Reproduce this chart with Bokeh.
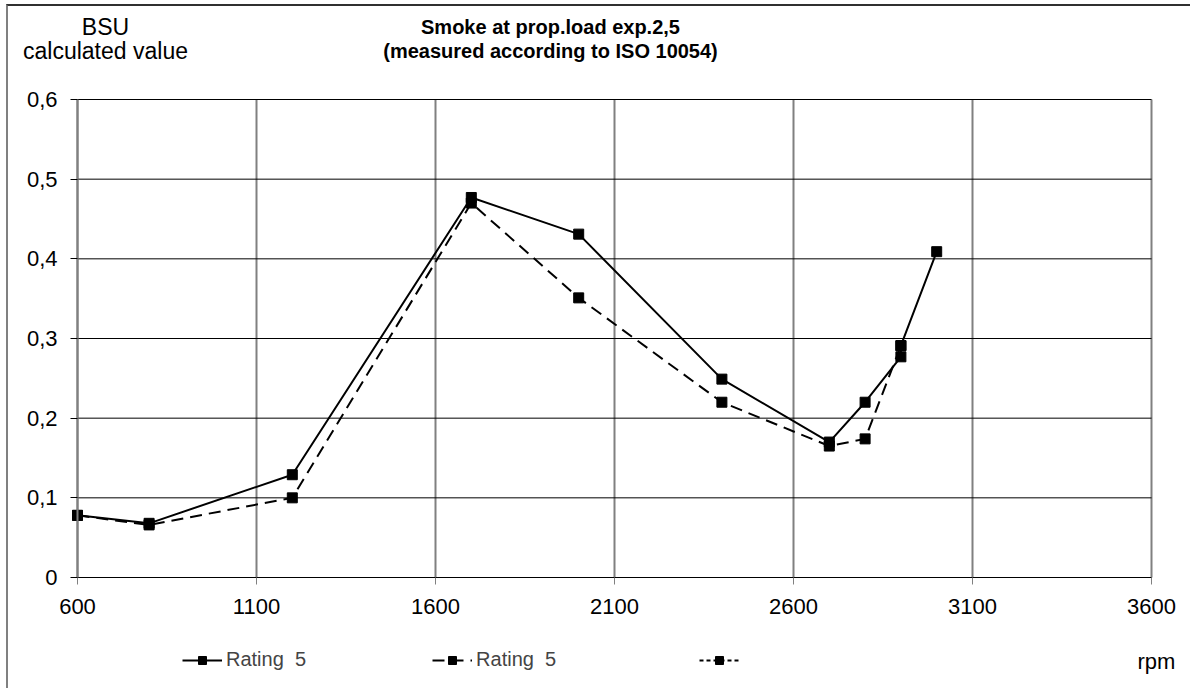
from bokeh.plotting import figure
from bokeh.models import (Range1d, FixedTicker, CustomJSTickFormatter, Label, Legend,
                          LegendItem, ColumnDataSource, LinearAxis)
from bokeh.embed import file_html
from bokeh.resources import INLINE

nan = float("nan")

# ---- data ----
rpm_solid = [600, 800, 1200, 1700, 2000, 2400, 2700, 2800, 2900, 2900, 3000]
bsu_solid = [0.078, 0.068, 0.129, 0.477, 0.431, 0.249, 0.170, 0.220, 0.277, 0.291, 0.409]
rpm_dash = [600, 800, 1200, 1700, 2000, 2400, 2700, 2800, 2900]
bsu_dash = [0.078, 0.066, 0.100, 0.470, 0.351, 0.220, 0.165, 0.174, 0.291]
rpm_dot = [nan]          # third series: legend entry only, no visible values
bsu_dot = [nan]
x_ticks = [600, 1100, 1600, 2100, 2600, 3100, 3600]
y_ticks = [0, 0.1, 0.2, 0.3, 0.4, 0.5, 0.6]
series_labels = ["Rating  5", "Rating  5\u00a0\u00a0\u00a0", " "]

FONT = "Liberation Sans"

# ---- layout (canvas pixels) ----
W, H = 1184, 684
FL, FR, FT, FB = 69, 1143, 93, 571   # where the value area sits on the canvas
x0, x1 = x_ticks[0], x_ticks[-1]
y0, y1 = y_ticks[0], y_ticks[-1]
kx = (x1 - x0) / (FR - FL)
ky = (y1 - y0) / (FB - FT)
xr = Range1d(x0 - FL * kx, x1 + (W - FR) * kx)
yr = Range1d(y0 - (H - FB) * ky, y1 + FT * ky)

p = figure(width=W, height=H, output_backend="svg", toolbar_location=None,
           x_range=xr, y_range=yr, x_axis_location=None, y_axis_location=None,
           min_border=0)
p.styles = {"border-left": "2px solid #808080", "border-top": "2px solid #303030",
            "margin-left": "6px", "margin-top": "4px"}
p.outline_line_color = None
p.background_fill_color = "white"
p.border_fill_color = "white"
p.center = []

# grid lines from the tick lists
p.segment(x0=x_ticks, y0=[y0] * len(x_ticks), x1=x_ticks, y1=[y1] * len(x_ticks),
          line_color="#808080", line_width=2)
p.segment(x0=[x0] * len(y_ticks), y0=y_ticks, x1=[x1] * len(y_ticks), y1=y_ticks,
          line_color="black", line_width=1)

# axes
xa = LinearAxis(fixed_location=y0, bounds=(x0, x1), ticker=FixedTicker(ticks=x_ticks))
ya = LinearAxis(fixed_location=x0, bounds=(y0, y1), ticker=FixedTicker(ticks=y_ticks),
                formatter=CustomJSTickFormatter(
                    code='return tick == 0 ? "0" : tick.toFixed(1).replace(".", ",");'))
for ax in (xa, ya):
    ax.major_label_text_font = FONT
    ax.major_label_text_font_size = "22px"
    ax.major_label_text_color = "black"
    ax.minor_tick_line_color = None
    ax.major_tick_in = 0
    ax.major_tick_out = 7
xa.axis_line_color = "black"
xa.major_tick_line_color = "#808080"
xa.major_label_standoff = 14
ya.axis_line_color = "#808080"
ya.axis_line_width = 2
ya.major_tick_line_color = "black"
ya.major_label_standoff = 13
p.add_layout(xa, "below")
p.add_layout(ya, "left")

# series
s1 = ColumnDataSource(dict(x=rpm_solid, y=bsu_solid))
s2 = ColumnDataSource(dict(x=rpm_dash, y=bsu_dash))
s3 = ColumnDataSource(dict(x=rpm_dot, y=bsu_dot))

l2 = p.line("x", "y", source=s2, line_color="black", line_width=2, line_dash="12 7")
m2 = p.scatter("x", "y", source=s2, marker="square", size=10, color="black")
l1 = p.line("x", "y", source=s1, line_color="black", line_width=2)
m1 = p.scatter("x", "y", source=s1, marker="square", size=10, color="black")
l3 = p.line("x", "y", source=s3, line_color="black", line_width=2, line_dash="4 3")
m3 = p.scatter("x", "y", source=s3, marker="square", size=9, color="black")

legend = Legend(items=[
    LegendItem(label=series_labels[0], renderers=[l1, m1]),
    LegendItem(label=series_labels[1], renderers=[l2, m2]),
    LegendItem(label=series_labels[2], renderers=[l3, m3]),
], orientation="horizontal", location=(174, 19), glyph_width=40, glyph_height=20,
    spacing=126, padding=0, margin=0, label_standoff=4,
    border_line_color=None, background_fill_alpha=0,
    label_text_font=FONT, label_text_font_size="20px")
p.add_layout(legend, "center")

# texts
def add_label(text, x, y, bold=False, align="center", size="20px"):
    p.add_layout(Label(x=x, y=y, x_units="screen", y_units="screen", text=text,
                       text_font=FONT, text_font_size=size, text_align=align,
                       text_baseline="middle",
                       text_font_style="bold" if bold else "normal",
                       text_color="black"))

add_label("BSU", 97, 664, size="23px")
add_label("calculated value", 97, 640, size="23px")
add_label("Smoke at prop.load exp.2,5", 542, 664, bold=True)
add_label("(measured according to ISO 10054)", 542, 640, bold=True)
add_label("rpm", 1129, 29, align="left", size="22px")

open("out.html", "w").write(file_html(p, INLINE))
